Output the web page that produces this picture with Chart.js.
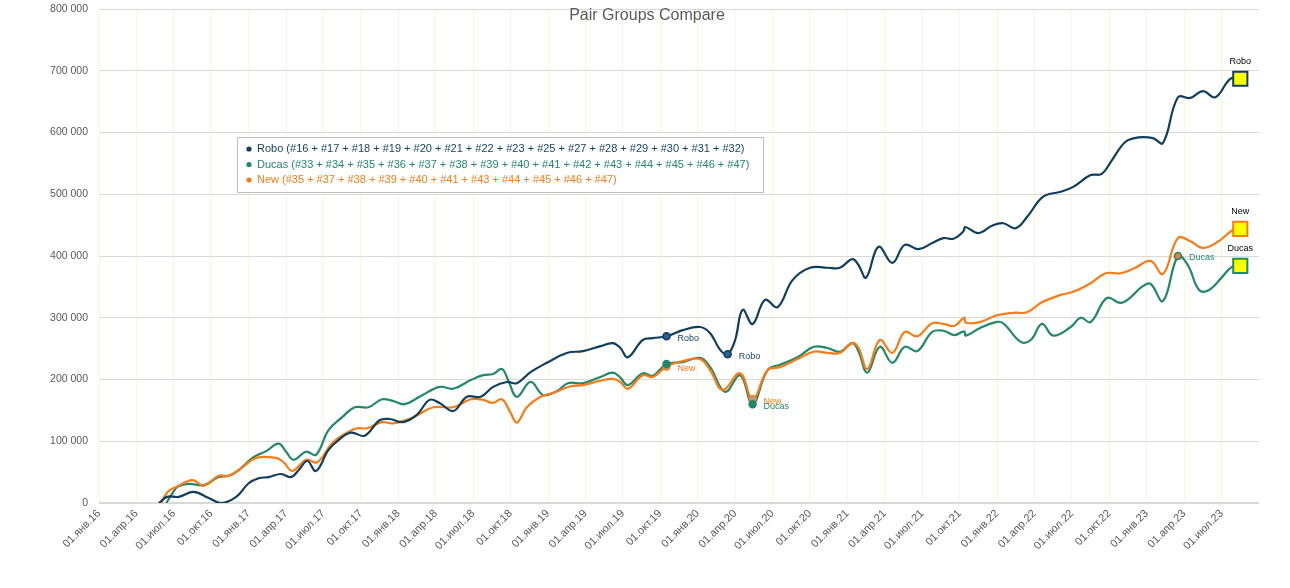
<!DOCTYPE html>
<html lang="ru">
<head>
    <meta charset="UTF-8">
    <title>Pair Groups Compare</title>
    <script src="https://cdn.jsdelivr.net/npm/chart.js"></script>
    <style>
        body { margin: 0; background: #fff; }
        #wrap { width: 1290px; height: 588px; }
    </style>
</head>
<body>
<div id="wrap"><canvas id="pairChart" width="1290" height="588"></canvas></div>

<script>
// x = months since 01.01.2016
const xTickLabels = [
    '01.янв.16','01.апр.16','01.июл.16','01.окт.16',
    '01.янв.17','01.апр.17','01.июл.17','01.окт.17',
    '01.янв.18','01.апр.18','01.июл.18','01.окт.18',
    '01.янв.19','01.апр.19','01.июл.19','01.окт.19',
    '01.янв.20','01.апр.20','01.июл.20','01.окт.20',
    '01.янв.21','01.апр.21','01.июл.21','01.окт.21',
    '01.янв.22','01.апр.22','01.июл.22','01.окт.22',
    '01.янв.23','01.апр.23','01.июл.23'
];

const roboMonths = [4.8,5.45,6.4,7.6,8.8,9.8,11,12,12.8,13.6,14.6,15.4,16,16.7,17.4,18.4,19.2,20.2,21.3,22.5,23.3,24.4,25.5,26.5,27.3,28.4,29.5,30.6,31.6,32.7,33.5,34.6,35.9,37.5,38.8,40.2,41.2,41.8,42.4,43.6,44.4,45.5,46.8,48.2,49,49.8,50.4,51,51.6,52.4,53.4,54.4,55.6,57,58.4,59.4,60.4,60.9,61.5,62.5,63.6,64.6,65.7,66.8,67.7,68.5,69.3,69.45,70.5,71.6,72.5,73.5,74.4,75.7,77.1,78.1,79.5,80.4,81.2,82.3,83.3,84.5,85.3,86.5,87.5,88.5,89.5,90.7,91.5];
const roboValues = [0,10000,10000,18000,8000,0,10000,32000,40000,42000,47000,42000,53000,68000,52000,86000,102000,114000,109000,134000,136000,131000,143000,167000,162000,149000,172000,172000,188000,196000,194000,212000,227000,243000,246000,254000,259000,251000,236000,264000,267000,270000,280000,285000,275000,248000,241000,264000,313000,290000,329000,317000,361000,381000,381000,381000,395000,385000,365000,415000,389000,418000,411000,421000,429000,428000,440000,447000,437000,449000,453000,445000,463000,496000,504000,512000,531000,533000,555000,585000,592000,591000,583000,657000,656000,667000,657000,687000,687000];

const ducasMonths = [5.4,5.8,6.3,7.2,8.4,9.6,10.4,11.2,12.3,13.4,14.4,15,15.6,16.6,17.4,18.4,19.5,20.5,21.6,22.7,23.6,24.5,25.7,27.3,28.4,29.8,30.8,31.6,32.3,32.8,33.5,34.6,35.6,36.7,37.6,38.8,40.2,41.2,41.8,42.4,43.6,44.4,45.5,46.8,48.2,49,50.2,51.4,52.4,53.6,54.6,56,57.3,58.4,59.4,60.4,60.9,61.6,62.6,63.6,64.6,65.6,66.8,67.7,68.6,69.35,69.5,70.6,71.9,72.5,73.9,74.7,75.6,76.5,77.9,78.7,79.5,80.8,81.9,82.7,83.6,84.3,85.3,86.5,87.3,88.2,89,90,90.8,91.5];
const ducasValues = [0,13000,26000,31000,29000,42000,44000,53000,73000,84000,96000,83000,70000,83000,78000,118000,139000,155000,155000,168000,165000,160000,172000,188000,185000,199000,207000,209000,217000,199000,172000,196000,175000,181000,194000,194000,204000,211000,203000,191000,210000,206000,225000,228000,235000,220000,180000,207000,160000,215000,224000,236000,253000,251000,245000,259000,245000,211000,253000,227000,253000,246000,277000,279000,272000,278000,271000,283000,293000,291000,261000,264000,290000,271000,285000,300000,293000,332000,324000,333000,350000,355000,327000,400000,385000,345000,345000,365000,382000,384000];

const newMonths = [5,5.5,6.2,7.5,8.4,9.6,10.4,11.5,12.6,14.2,14.8,15.5,16.6,17.5,18.7,19.8,20.7,21.5,22.7,23.6,25.2,26.8,28.4,29.8,30.8,31.6,32.3,33,33.5,34.3,35.4,36.4,37.8,38.8,40.2,41.2,41.8,42.4,43.6,44.4,45.5,46.8,48.2,49,50,51.4,52.4,53.6,54.6,56,57.3,58.4,59.4,60.4,60.9,61.6,62.6,63.6,64.6,65.6,66.8,67.7,68.6,69.35,69.5,70.6,72,73.3,74.4,75.6,77.1,78.1,79.5,80.7,81.9,83,84.3,85.3,86.5,87.5,88.5,89.7,90.9,91.5];
const newValues = [0,18000,26000,37000,28000,44000,44000,58000,73000,73000,66000,52000,70000,66000,97000,113000,121000,121000,131000,129000,139000,155000,155000,168000,167000,162000,168000,146000,130000,155000,172000,178000,189000,191000,198000,201000,196000,185000,207000,204000,221000,230000,233000,215000,183000,210000,168000,215000,220000,233000,245000,243000,243000,259000,251000,217000,264000,243000,277000,270000,291000,290000,287000,300000,292000,293000,304000,308000,309000,325000,337000,342000,356000,372000,372000,380000,392000,371000,429000,424000,413000,423000,442000,444000];

// highlighted points along the lines
const roboMarkMonths = [45.5, 50.4];
const roboMarkValues = [270000, 241000];
const roboMarkLabels = ['Robo', 'Robo'];
const ducasMarkMonths = [45.5, 52.4, 86.5];
const ducasMarkValues = [225000, 160000, 400000];
const ducasMarkLabels = ['', 'Ducas', 'Ducas'];
const newMarkMonths = [45.5, 52.4];
const newMarkValues = [221000, 168000];
const newMarkLabels = ['New', 'New'];

const seriesNames = ['Robo', 'Ducas', 'New'];
const legendTexts = [
    'Robo (#16 + #17 + #18 + #19 + #20 + #21 + #22 + #23 + #25 + #27 + #28 + #29 + #30 + #31 + #32)',
    'Ducas (#33 + #34 + #35 + #36 + #37 + #38 + #39 + #40 + #41 + #42 + #43 + #44 + #45 + #46 + #47)',
    'New (#35 + #37 + #38 + #39 + #40 + #41 + #43 + #44 + #45 + #46 + #47)'
];

const ROBO = '#0f3f5c';
const DUCAS = '#21886a';
const NEW = '#f97b16';
const FONT = "'Liberation Sans', Arial, sans-serif";

function pts(ms, vs) {
    return ms.map((m, i) => ({ x: m, y: vs[i] }));
}

function lineSet(label, ms, vs, color, order) {
    return {
        label: label,
        data: pts(ms, vs),
        borderColor: color,
        borderWidth: 2.2,
        pointRadius: 0,
        tension: 0.4,
        fill: false,
        order: order
    };
}

function markSet(ms, vs, labels, border, fills) {
    return {
        data: pts(ms, vs),
        showLine: false,
        pointRadius: 3.5,
        pointBorderWidth: 1.5,
        pointBorderColor: border,
        pointBackgroundColor: fills,
        markLabels: labels,
        labelColor: border,
        order: 0
    };
}

const endSet = {
    data: [
        { x: roboMonths[roboMonths.length - 1], y: roboValues[roboValues.length - 1] },
        { x: ducasMonths[ducasMonths.length - 1], y: ducasValues[ducasValues.length - 1] },
        { x: newMonths[newMonths.length - 1], y: newValues[newValues.length - 1] }
    ],
    showLine: false,
    pointStyle: 'rect',
    pointRadius: 10,
    pointBorderWidth: 2,
    pointBorderColor: [ROBO, DUCAS, NEW],
    pointBackgroundColor: '#ffff00',
    endLabels: seriesNames,
    order: 0
};

const overlayPlugin = {
    id: 'overlay',
    afterDatasetsDraw(chart) {
        const ctx = chart.ctx;
        ctx.save();

        // legend box inside the plot
        ctx.fillStyle = '#ffffff';
        ctx.fillRect(237, 137, 526, 55);
        ctx.strokeStyle = '#bfbfbf';
        ctx.lineWidth = 1;
        ctx.strokeRect(237.5, 137.5, 526, 55);
        const cols = [ROBO, DUCAS, NEW];
        ctx.font = '11px ' + FONT;
        ctx.textBaseline = 'middle';
        ctx.textAlign = 'left';
        legendTexts.forEach((t, i) => {
            const y = 149 + i * 15.5;
            ctx.fillStyle = cols[i];
            ctx.beginPath();
            ctx.arc(249, y, 2.6, 0, Math.PI * 2);
            ctx.fill();
            ctx.fillText(t, 257, y);
        });

        // point labels
        ctx.font = '9px ' + FONT;
        chart.data.datasets.forEach((ds, di) => {
            const meta = chart.getDatasetMeta(di);
            if (ds.markLabels) {
                ctx.fillStyle = ds.labelColor;
                ctx.textAlign = 'left';
                meta.data.forEach((p, i) => {
                    if (ds.markLabels[i]) ctx.fillText(ds.markLabels[i], p.x + 11, p.y + 2);
                });
            }
            if (ds.endLabels) {
                ctx.fillStyle = '#000000';
                ctx.textAlign = 'center';
                meta.data.forEach((p, i) => {
                    ctx.fillText(ds.endLabels[i], p.x, p.y - 17);
                });
            }
        });
        ctx.restore();
    },
    afterDraw(chart) {
        const ctx = chart.ctx;
        ctx.save();
        ctx.font = '16px ' + FONT;
        ctx.fillStyle = '#595959';
        ctx.textAlign = 'center';
        ctx.textBaseline = 'middle';
        ctx.fillText('Pair Groups Compare', 647, 16);
        ctx.restore();
    }
};

new Chart(document.getElementById('pairChart'), {
    type: 'line',
    data: {
        datasets: [
            lineSet('Robo', roboMonths, roboValues, ROBO, 3),
            lineSet('Ducas', ducasMonths, ducasValues, DUCAS, 5),
            lineSet('New', newMonths, newValues, NEW, 4),
            markSet(roboMarkMonths, roboMarkValues, roboMarkLabels, ROBO, ['#2f5f93', '#2f5f93']),
            markSet(ducasMarkMonths, ducasMarkValues, ducasMarkLabels, DUCAS, [DUCAS, DUCAS, '#e0803a']),
            markSet(newMarkMonths, newMarkValues, newMarkLabels, NEW, ['#a0a0a0', '#a0a0a0']),
            endSet
        ]
    },
    options: {
        responsive: false,
        animation: false,
        layout: { autoPadding: false, padding: { top: 9, right: 31, left: 0, bottom: 0 } },
        plugins: {
            legend: { display: false },
            tooltip: { enabled: false },
            title: { display: false }
        },
        scales: {
            x: {
                type: 'linear',
                min: 0,
                max: 93,
                afterFit: s => { s.height = 85; },
                afterBuildTicks: s => {
                    s.ticks = [];
                    for (let v = 0; v <= 93; v += 3) s.ticks.push({ value: v });
                },
                ticks: {
                    autoSkip: false,
                    maxRotation: 45,
                    minRotation: 45,
                    padding: 4,
                    color: '#595959',
                    font: { family: FONT, size: 11 },
                    callback: v => xTickLabels[v / 3] || ''
                },
                grid: {
                    color: c => (c.tick && c.tick.value > 90) ? 'rgba(0,0,0,0)' : '#fcf8d0',
                    lineWidth: 1,
                    drawTicks: false
                },
                border: { display: false }
            },
            y: {
                min: 0,
                max: 800000,
                afterFit: s => { s.width = 99; s.paddingTop = 0; s.paddingBottom = 0; },
                ticks: {
                    stepSize: 100000,
                    padding: 11,
                    color: '#595959',
                    font: { family: FONT, size: 10.5 },
                    callback: v => String(v).replace(/\B(?=(\d{3})+(?!\d))/g, ' ')
                },
                grid: {
                    color: '#d9d9d9',
                    lineWidth: c => c.tick && c.tick.value === 0 ? 2 : 1,
                    drawTicks: false
                },
                border: { display: false }
            }
        }
    },
    plugins: [overlayPlugin]
});
</script>
</body>
</html>
